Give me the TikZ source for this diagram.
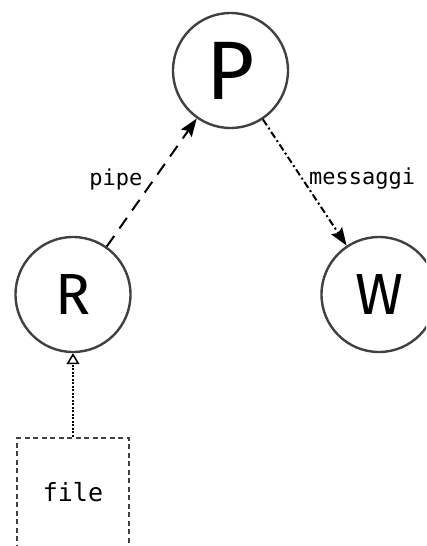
\documentclass[tikz,border=0pt]{standalone}
\usepackage{fontspec}
\setmainfont{Fira Sans}
\setmonofont{DejaVu Sans Mono}
\usetikzlibrary{positioning,arrows.meta}

\begin{document}
\begin{tikzpicture}[x=1pt, y=-1pt,
    proc/.style={circle, draw=black!75, line width=2.4pt, minimum size=115pt, inner sep=0pt},
    src/.style={rectangle, draw=black!75, line width=2.4pt, dash pattern=on 5pt off 3.5pt,
        minimum width=112pt, minimum height=120pt, text depth=12pt, font=\ttfamily\fontsize{25}{25}\selectfont},
    lbl/.style={font=\ttfamily\fontsize{22}{22}\selectfont},
    tip/.style={-{Stealth[length=18pt, width=13pt, inset=3pt]}, line width=2pt}]

    \useasboundingbox (0,0) rectangle (426,546);
    \clip (0,0) rectangle (426,546);

    % processes
    \node[proc, font=\fontsize{83}{83}\selectfont] (P) at (230.5,70.5) {P};
    \node[proc, font=\fontsize{58}{58}\selectfont] (R) at (73,294.5) {R};
    \node[proc, font=\fontsize{58}{58}\selectfont] (W) at (379,294.5) {W};

    % input file
    \node[src] (file) at (73,498) {file};

    % channels
    \path[draw, tip, dash pattern=on 13pt off 9pt] (R) -- node[lbl, midway, anchor=east, xshift=-5pt, yshift=3pt] {pipe} (P);
    \path[draw, tip, dash pattern=on 7pt off 3pt on 2pt off 3pt] (P) -- node[lbl, midway, anchor=west, yshift=4pt] {messaggi} (W);
    \path[draw, line width=2pt, dash pattern=on 2pt off 1.5pt, -{Triangle[open, length=11pt, width=13pt, line width=1.5pt]}] (file) -- (R);

\end{tikzpicture}
\end{document}
